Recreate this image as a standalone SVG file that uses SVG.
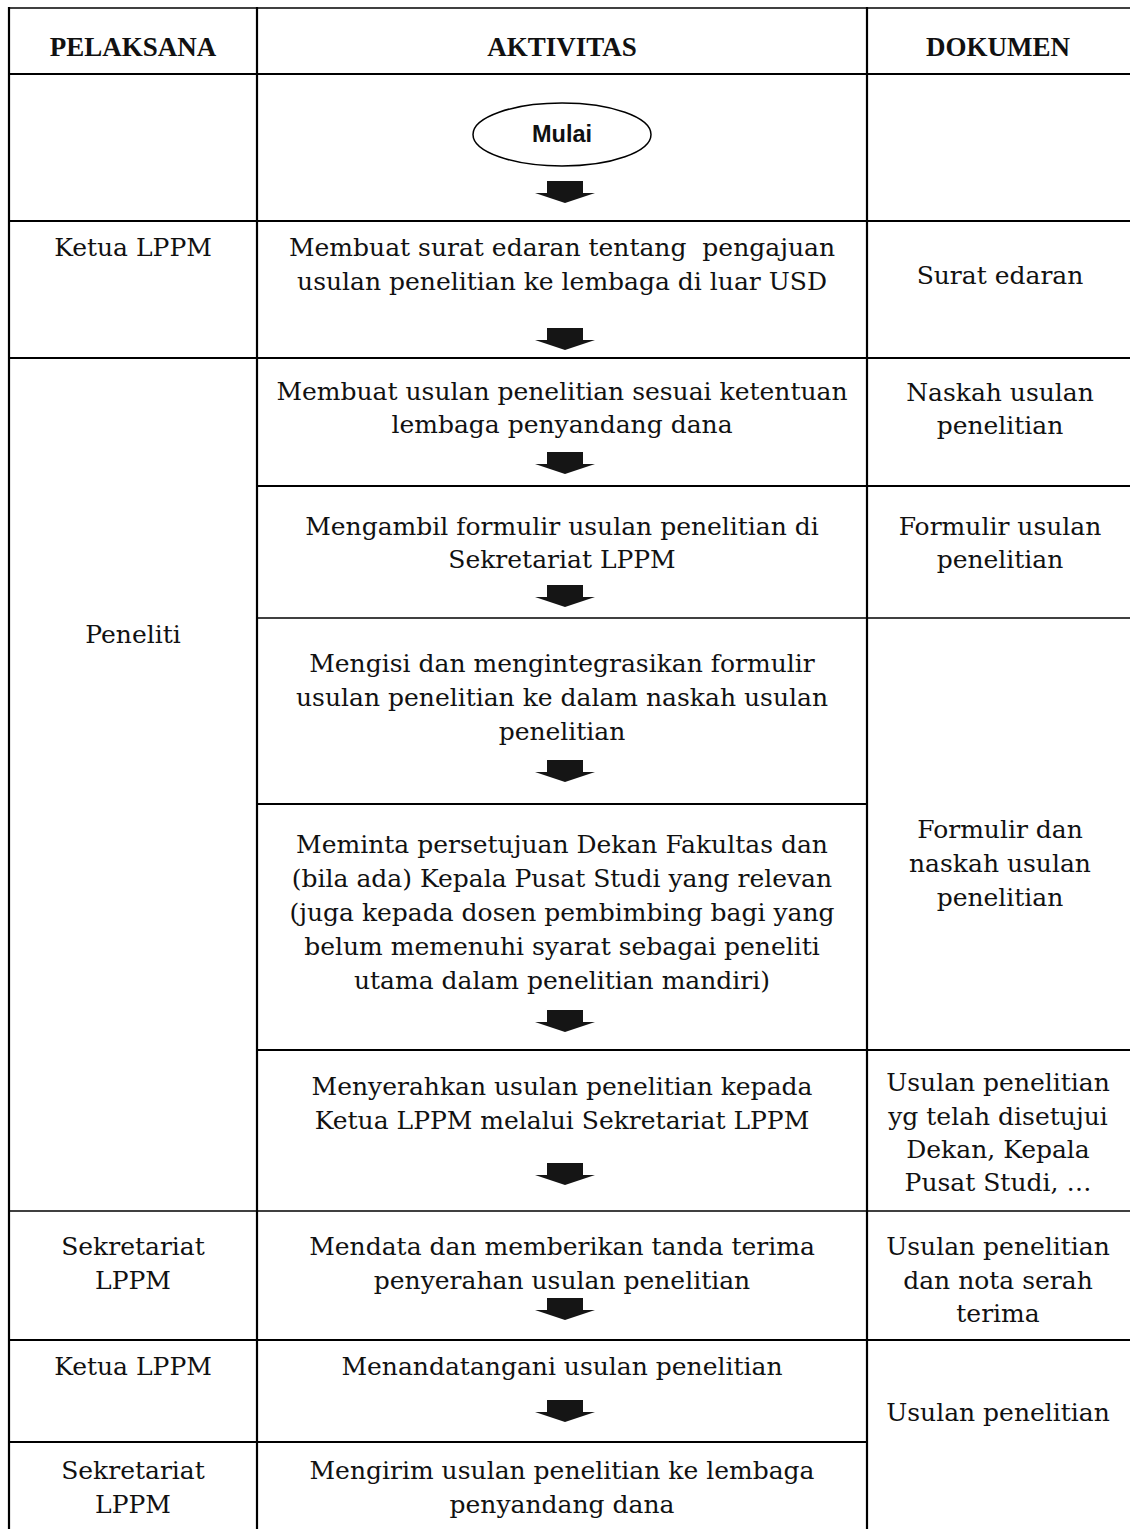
<svg xmlns="http://www.w3.org/2000/svg" xmlns:xlink="http://www.w3.org/1999/xlink" width="1130" height="1529" viewBox="0 0 1130 1529">
<style>
.ln{stroke:#000;stroke-width:2.2;fill:none}
.tn{stroke:#000;stroke-width:1.4;fill:none}
.t{font-family:"DejaVu Serif","Liberation Serif",serif;font-size:25px;fill:#111;text-anchor:middle}
.h{font-family:"Liberation Serif","DejaVu Serif",serif;font-size:27px;font-weight:bold;fill:#111;text-anchor:middle}
.m{font-family:"Liberation Sans","Open Sans",sans-serif;font-size:23.5px;font-weight:bold;fill:#111;text-anchor:middle}
.arr{fill:#151515}
</style>
<defs>
<path id="arrow" class="arr" d="M-18,0 H18 V12 H30 L0,22 L-30,12 H-18 Z"/>
</defs>
<rect width="1130" height="1529" fill="#fff"/>
<g id="table">
<line class="tn" x1="9" y1="8" x2="1130" y2="8"/>
<line class="ln" x1="9" y1="7" x2="9" y2="1529"/>
<line class="ln" x1="257" y1="7" x2="257" y2="1529"/>
<line class="ln" x1="867" y1="7" x2="867" y2="1529"/>
<line class="ln" x1="9" y1="74" x2="1130" y2="74"/>
<line class="ln" x1="9" y1="221" x2="1130" y2="221"/>
<line class="ln" x1="9" y1="358" x2="1130" y2="358"/>
<line class="ln" x1="257" y1="486" x2="1130" y2="486"/>
<line class="tn" x1="257" y1="618" x2="1130" y2="618"/>
<line class="ln" x1="257" y1="804" x2="867" y2="804"/>
<line class="ln" x1="257" y1="1050" x2="1130" y2="1050"/>
<line class="tn" x1="9" y1="1211" x2="1130" y2="1211"/>
<line class="ln" x1="9" y1="1340" x2="1130" y2="1340"/>
<line class="ln" x1="9" y1="1442" x2="867" y2="1442"/>
</g>
<g id="header">
<text class="h" x="133" y="56">PELAKSANA</text>
<text class="h" x="562" y="56">AKTIVITAS</text>
<text class="h" x="998" y="56">DOKUMEN</text>
</g>
<g id="pelaksana">
<text class="t" x="133" y="256">Ketua LPPM</text>
<text class="t" x="133" y="643">Peneliti</text>
<text class="t" x="133" y="1255">Sekretariat</text>
<text class="t" x="133" y="1289">LPPM</text>
<text class="t" x="133" y="1375">Ketua LPPM</text>
<text class="t" x="133" y="1479">Sekretariat</text>
<text class="t" x="133" y="1513">LPPM</text>
</g>
<g id="mulai">
<ellipse cx="562" cy="134.5" rx="89" ry="31.5" fill="#fff" stroke="#000" stroke-width="1.5"/>
<text class="m" x="562" y="142">Mulai</text>
</g>
<g id="act1">
<text class="t" x="562" y="256">Membuat surat edaran tentang&#160; pengajuan</text>
<text class="t" x="562" y="290">usulan penelitian ke lembaga di luar USD</text>
</g>
<g id="act2">
<text class="t" x="562" y="400">Membuat usulan penelitian sesuai ketentuan</text>
<text class="t" x="562" y="433">lembaga penyandang dana</text>
</g>
<g id="act3">
<text class="t" x="562" y="535">Mengambil formulir usulan penelitian di</text>
<text class="t" x="562" y="568">Sekretariat LPPM</text>
</g>
<g id="act4">
<text class="t" x="562" y="672">Mengisi dan mengintegrasikan formulir</text>
<text class="t" x="562" y="706">usulan penelitian ke dalam naskah usulan</text>
<text class="t" x="562" y="740">penelitian</text>
</g>
<g id="act5">
<text class="t" x="562" y="853">Meminta persetujuan Dekan Fakultas dan</text>
<text class="t" x="562" y="887">(bila ada) Kepala Pusat Studi yang relevan</text>
<text class="t" x="562" y="921">(juga kepada dosen pembimbing bagi yang</text>
<text class="t" x="562" y="955">belum memenuhi syarat sebagai peneliti</text>
<text class="t" x="562" y="989">utama dalam penelitian mandiri)</text>
</g>
<g id="act6">
<text class="t" x="562" y="1095">Menyerahkan usulan penelitian kepada</text>
<text class="t" x="562" y="1129">Ketua LPPM melalui Sekretariat LPPM</text>
</g>
<g id="act7">
<text class="t" x="562" y="1255">Mendata dan memberikan tanda terima</text>
<text class="t" x="562" y="1289">penyerahan usulan penelitian</text>
</g>
<g id="act8">
<text class="t" x="562" y="1375">Menandatangani usulan penelitian</text>
</g>
<g id="act9">
<text class="t" x="562" y="1479">Mengirim usulan penelitian ke lembaga</text>
<text class="t" x="562" y="1513">penyandang dana</text>
</g>
<g id="dokumen">
<text class="t" x="1000" y="284">Surat edaran</text>
<text class="t" x="1000" y="401">Naskah usulan</text>
<text class="t" x="1000" y="434">penelitian</text>
<text class="t" x="1000" y="535">Formulir usulan</text>
<text class="t" x="1000" y="568">penelitian</text>
<text class="t" x="1000" y="838">Formulir dan</text>
<text class="t" x="1000" y="872">naskah usulan</text>
<text class="t" x="1000" y="906">penelitian</text>
<text class="t" x="998" y="1091">Usulan penelitian</text>
<text class="t" x="998" y="1125">yg telah disetujui</text>
<text class="t" x="998" y="1158">Dekan, Kepala</text>
<text class="t" x="998" y="1191">Pusat Studi, …</text>
<text class="t" x="998" y="1255">Usulan penelitian</text>
<text class="t" x="998" y="1289">dan nota serah</text>
<text class="t" x="998" y="1322">terima</text>
<text class="t" x="998" y="1421">Usulan penelitian</text>
</g>
<g id="connectors">
<use xlink:href="#arrow" x="565" y="181"/>
<use xlink:href="#arrow" x="565" y="328"/>
<use xlink:href="#arrow" x="565" y="452"/>
<use xlink:href="#arrow" x="565" y="585"/>
<use xlink:href="#arrow" x="565" y="760"/>
<use xlink:href="#arrow" x="565" y="1010"/>
<use xlink:href="#arrow" x="565" y="1163"/>
<use xlink:href="#arrow" x="565" y="1298"/>
<use xlink:href="#arrow" x="565" y="1400"/>
</g>
</svg>
